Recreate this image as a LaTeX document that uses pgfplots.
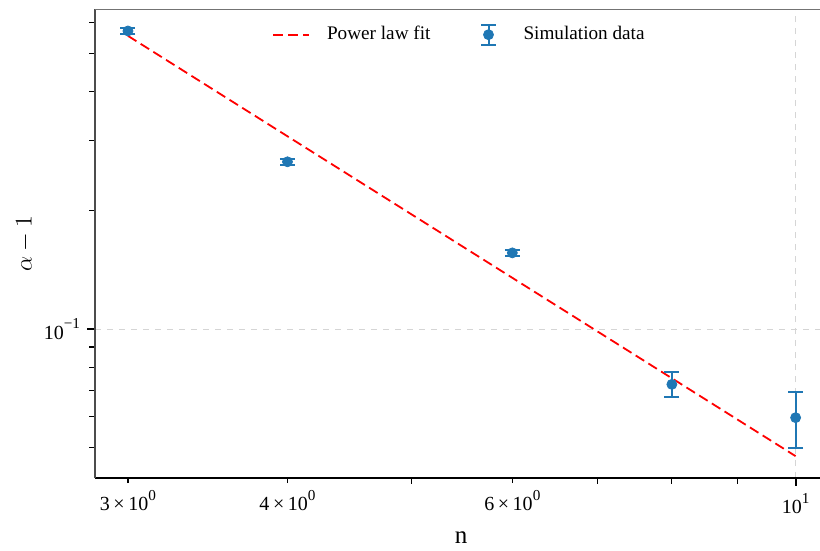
\documentclass[border=0pt]{standalone}
\usepackage{fontspec}
\setmainfont{Liberation Serif}
\usepackage{pgfplots}
\pgfplotsset{compat=1.18}
\definecolor{tabblue}{HTML}{1F77B4}
\definecolor{gridgray}{HTML}{D5D5D5}
\newcommand\sups[1]{\raisebox{5.3pt}{\fontsize{7.6}{8}\selectfont #1}}
\newcommand\tlab[1]{#1\hspace{1.8pt}×\hspace{1.8pt}10\sups{0}}
\pgfplotsset{
  linelegend/.style={
    legend image code/.code={
      \draw[##1] (0pt,0pt) -- (18pt,0pt);
    }
  },
  errlegend/.style={
    legend image code/.code={
      \path[draw=none, fill=none] (0pt,0pt) -- (18pt,0pt);
      \draw[tabblue, line width=1pt, solid] (9pt,-5pt) -- (9pt,5pt);
      \draw[tabblue, line width=1pt, solid] (5.25pt,-5pt) -- (12.75pt,-5pt);
      \draw[tabblue, line width=1pt, solid] (5.25pt,5pt) -- (12.75pt,5pt);
      \fill[tabblue] (9pt,0pt) circle (2.5pt);
    }
  }
}
\begin{document}
\begin{tikzpicture}
\begin{axis}[
  name=ax,
  xmode=log, ymode=log,
  scale only axis, width=362.5pt, height=234.5pt,
  xmin=2.827, xmax=10.45, ymin=0.0419, ymax=0.648,
  axis x line*=bottom, axis y line*=left,
  x axis line style={black, line width=0.9pt, -},
  y axis line style={black!70, line width=0.9pt, -},
  tick align=outside,
  xtick={10}, xticklabels={10\sups{1}},
  extra x ticks={3,4,6},
  extra x tick labels={\tlab{3},\tlab{4},\tlab{6}},
  extra x tick style={grid=none, major tick length=2.6pt, major tick style={line width=0.6pt, black}},
  minor xtick={5,7,8,9},
  ytick={0.1}, yticklabels={10\sups{−1}},
  minor ytick={0.05,0.06,0.07,0.08,0.09,0.2,0.3,0.4,0.5,0.6},
  major tick length=4pt, minor tick length=3pt,
  major tick style={line width=1.1pt, black},
  minor tick style={line width=0.6pt, black},
  grid=major, major grid style={gridgray, dashed, line width=0.4pt},
  tick label style={font=\fontsize{10}{12}\selectfont},
  xlabel={n},
  xlabel style={at={(axis description cs:0.505,0)}, anchor=center, yshift=-29.75pt, font=\fontsize{12.5}{14}\selectfont},
  ylabel={$\alpha - 1$},
  ylabel style={at={(axis description cs:-0.0966,0.5)}, anchor=center, font=\fontsize{12.5}{14}\selectfont},
  legend columns=2,
  legend style={draw=none, at={(0.504,0.985)}, anchor=north, yshift=-1pt,
    font=\fontsize{9.6}{11}\selectfont,
    /tikz/every odd column/.append style={column sep=6.5pt},
    /tikz/every even column/.append style={column sep=18pt}},
]
\addlegendimage{linelegend, red, line width=0.9pt, dash pattern=on 5pt off 2.5pt}
\addlegendentry{Power law fit}
\addlegendimage{errlegend}
\addlegendentry{Simulation data}
\addplot[forget plot, red, line width=0.9pt, dash pattern=on 5pt off 2.5pt] coordinates {(3,0.554) (10,0.0476)};
\addplot[forget plot, only marks, mark=*, mark size=2.5pt, color=tabblue,
  error bars/.cd, y dir=both, y explicit,
  error bar style={line width=1pt, tabblue},
  error mark options={rotate=90, mark size=3.75pt, line width=1pt, tabblue}]
  coordinates {
  (3,0.570) +- (0,0.010)
  (4,0.2655) +- (0,0.0047)
  (6,0.156) +- (0,0.0028)
  (8,0.0724) +- (0,0.0053)
  (10,0.0596) +- (0,0.0096)
};
\draw[black!55, line width=1.1pt] (rel axis cs:0,1) -- (rel axis cs:1,1);
\end{axis}
\pgfresetboundingbox
\path (ax.south west) ++(-47.5pt,-36.5pt) coordinate (bl);
\path (ax.north east) ++(0pt,4.5pt) coordinate (tr);
\useasboundingbox (bl) rectangle (tr);
\end{tikzpicture}
\end{document}
